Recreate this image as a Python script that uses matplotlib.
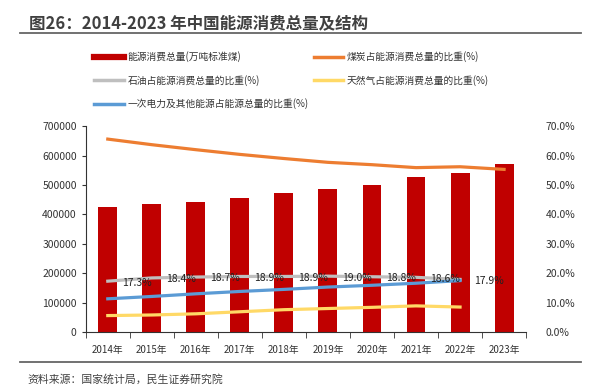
import numpy as np
import matplotlib
matplotlib.use('Agg')
import matplotlib.pyplot as plt
from matplotlib.lines import Line2D
from matplotlib.ticker import FuncFormatter, MultipleLocator

plt.rcParams['font.family'] = ['Noto Sans CJK SC', 'DejaVu Sans']

years = ['2014年', '2015年', '2016年', '2017年', '2018年', '2019年', '2020年', '2021年', '2022年', '2023年']
total = [425806, 434113, 441492, 455827, 471925, 487488, 498314, 525896, 541000, 572000]
coal = [65.6, 63.7, 62.0, 60.4, 59.0, 57.7, 56.9, 55.9, 56.2, 55.3]
oil = [17.3, 18.4, 18.7, 18.9, 18.9, 19.0, 18.8, 18.6, 17.9]
gas = [5.6, 5.8, 6.2, 6.9, 7.6, 8.0, 8.4, 8.9, 8.5]
other = [11.3, 12.1, 13.0, 13.8, 14.5, 15.3, 15.9, 16.6, 17.5]

names = ['能源消费总量(万吨标准煤)', '煤炭占能源消费总量的比重(%)', '石油占能源消费总量的比重(%)',
         '天然气占能源消费总量的比重(%)', '一次电力及其他能源占能源总量的比重(%)']
colors = ['#C00000', '#ED7D31', '#BFBFBF', '#FFD966', '#5B9BD5']

fig = plt.figure(figsize=(6.04, 3.87), dpi=100)
ax = fig.add_axes([0.142, 0.142, 0.729, 0.532])
ax2 = ax.twinx()

x = np.arange(len(years))
ax.bar(x, total, width=0.43, color=colors[0], zorder=2)
ax.set_ylim(0, 700000)
ax.set_xlim(-0.5, len(years) - 0.5)
ax.yaxis.set_major_locator(MultipleLocator(100000))
ax.set_xticks(x)
ax.set_xticklabels(years)
ax.set_xticks(np.arange(-0.5, len(years)), minor=True)
ax.tick_params(axis='x', which='major', length=0, labelsize=7, pad=9, colors='#333333')
ax.tick_params(axis='x', which='minor', length=4, direction='out', color='#333333')
ax.tick_params(axis='y', length=3, labelsize=7.5, colors='#333333', width=0.8)
for s in ['top', 'right']:
    ax.spines[s].set_visible(False)
for s in ['left', 'bottom']:
    ax.spines[s].set_color('#333333')

# percentage lines on the right axis
lw = 2.3
ax2.plot(x, coal, color=colors[1], lw=lw, zorder=3)
ax2.plot(x[:len(oil)], oil, color=colors[2], lw=lw, zorder=3)
ax2.plot(x[:len(gas)], gas, color=colors[3], lw=lw, zorder=3)
ax2.plot(x[:len(other)], other, color=colors[4], lw=lw, zorder=3)
for i, v in enumerate(oil):
    ax2.annotate('%.1f%%' % v, (x[i], v), xytext=(10, -1), textcoords='offset points',
                 ha='left', va='center', fontsize=7.5, color='#222222')
ax2.set_ylim(0, 70)
ax2.yaxis.set_major_locator(MultipleLocator(10))
ax2.yaxis.set_major_formatter(FuncFormatter(lambda v, p: '%.1f%%' % v))
ax2.tick_params(axis='y', length=0, labelsize=7.5, colors='#333333', pad=14)
for s in ax2.spines.values():
    s.set_visible(False)

# legend
handles = [Line2D([], [], color=c, lw=4.5 if i == 0 else 2.5) for i, c in enumerate(colors)]
order = [0, 2, 4, 1, 3]
fig.legend([handles[i] for i in order], [names[i] for i in order], ncol=2,
           loc='upper left', bbox_to_anchor=(0.150, 0.878), frameon=False,
           fontsize=7, handlelength=3.0, columnspacing=0.5, labelspacing=1.3,
           handletextpad=0.4, labelcolor='#333333', borderaxespad=0)

# title and source
fig.text(0.048, 0.94, '图26：2014-2023 年中国能源消费总量及结构', fontsize=11.9,
         fontweight='bold', color='#404040', va='center')
fig.add_artist(Line2D([0.033, 0.962], [0.915, 0.915], color='#666666', lw=1.3))
fig.add_artist(Line2D([0.033, 0.962], [0.064, 0.064], color='#666666', lw=1.3))
fig.text(0.046, 0.02, '资料来源：国家统计局，民生证券研究院', fontsize=7.8,
         color='#404040', va='center')

fig.savefig('out.png', dpi=100)
